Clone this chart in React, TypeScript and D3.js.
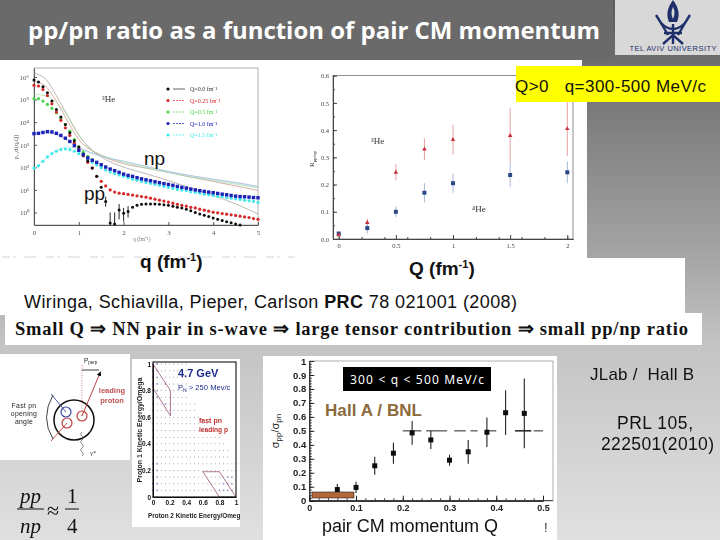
import React, { useEffect, useRef } from "react";
import * as d3 from "d3";

const SANS = "'Liberation Sans', Arial, sans-serif";
const SERIF = "'Liberation Serif', 'Times New Roman', serif";

// top left: momentum distributions in 3He
const qGrid = [
  0, 0.1, 0.2, 0.3, 0.4, 0.5, 0.6, 0.7, 0.8, 0.9, 1, 1.1, 1.2, 1.3, 1.4, 1.5, 1.6, 1.7, 1.8, 1.9, 2, 2.1, 2.2, 2.3, 2.4,
  2.5, 2.6, 2.7, 2.8, 2.9, 3, 3.1, 3.2, 3.3, 3.4, 3.5, 3.6, 3.7, 3.8, 3.9, 4, 4.1, 4.2, 4.3, 4.4, 4.5, 4.6, 4.7, 4.8,
  4.9, 5,
];
const ppQ00 = [
  7.4e5, 6e5, 3.7e5, 2e5, 8.6e4, 3.6e4, 1.7e4, 7.9e3, 3.4e3, 1.5e3, 800, 390, 190, 93, 40, 13, 3.1, 0.34, 0.31, 1.3,
  0.93, 1.1, 1.7, 2.1, 2.3, 2.4, 2.4, 2.4, 2.3, 2.2, 2.1, 1.9, 1.7, 1.6, 1.4, 1.2, 1, 0.87, 0.76, 0.66, 0.57, 0.5, 0.44,
  0.39, 0.35, 0.31, 0.28,
];
const ppQ25 = [
  4.3e5, 4e5, 2.8e5, 1.5e5, 6.5e4, 2.8e4, 1.2e4, 5.6e3, 2.6e3, 1.2e3, 650, 330, 166, 93, 40, 24, 15, 10, 8, 7.2, 6.8,
  6.3, 5.9, 5.5, 5.1, 4.8, 4.3, 3.9, 3.5, 3.2, 2.9, 2.6, 2.3, 2.1, 1.9, 1.7, 1.6, 1.4, 1.27, 1.15, 1.03, 0.97, 0.9,
  0.84, 0.79, 0.74, 0.69, 0.64, 0.6, 0.54, 0.5,
];
const ppQ50 = [1.1e5, 1.1e5, 8.6e4, 6.1e4, 4.1e4, 2.6e4, 1.5e4, 7.9e3, 4e3, 1.7e3, 800, 470, 310, 220];
const ppQ100 = [
  3.1e3, 3.2e3, 3.5e3, 3.8e3, 3.7e3, 3.2e3, 2.6e3, 1.95e3, 1.4e3, 920, 570, 365, 260, 205, 166, 130, 103, 84, 71, 60,
  50, 44, 40, 35, 31, 28, 25.5, 23, 21, 19, 17.5, 16, 14.3, 12.9, 12, 10.9, 10, 9.2, 8.6, 8, 7.5, 7, 6.5, 6.1, 5.7, 5.3,
  5.1, 5, 4.8, 4.6, 4.5,
];
const ppQ150 = [
  93, 118, 186, 288, 405, 515, 610, 650, 610, 515, 405, 310, 220, 166, 127, 97, 76, 62, 52, 46, 40, 35, 30, 27, 24,
  21.5, 19.5, 17.5, 16, 14.3, 12.9, 11.7, 10.5, 9.8, 9.2, 8.3, 7.7, 7.2, 6.5, 6.1, 5.7, 5.3, 5, 4.6, 4.3, 4.05, 3.8,
  3.5, 3.3, 3.1, 2.8,
];
const npGrid = [0, 0.25, 0.5, 0.75, 1, 1.25, 1.5, 2, 2.5, 3, 3.5, 4, 4.5, 5];
const npQ00 = [1.45e6, 8.4e5, 1.5e5, 1.9e4, 2.6e3, 720, 290, 103, 52, 26, 12, 5.7, 2.4, 0.87];
const npQ25 = [6.6e5, 4e5, 8.6e4, 1.1e4, 1.7e3, 610, 330, 145, 93, 60, 37, 24, 15, 9.5];
const npQ50 = [1.7e5, 1.5e5, 7.2e4, 1.9e4, 2.8e3, 650, 365, 166, 93, 60, 37, 25.5, 18, 12];
const npQ100 = [3.1e3, 3.6e3, 2.8e3, 1.55e3, 800, 470, 310, 185, 111, 66, 43, 30, 21.5, 14.3];
const npQ150 = [85, 235, 570, 800, 650, 435, 310, 186, 103, 62, 40, 28, 20, 12.9];
const distColors = ["#111111", "#d62a2a", "#46d84a", "#1a20b8", "#3fe8e8"];
const npColors = ["#a09a90", "#c98a80", "#a9d8a0", "#9a9fd0", "#a8e0e0"];
const distLabels = ["Q=0.0 fm⁻¹", "Q=0.25 fm⁻¹", "Q=0.5 fm⁻¹", "Q=1.0 fm⁻¹", "Q=1.5 fm⁻¹"];
const errQ = [1.6, 1.7, 1.8, 1.9, 2, 2.1];
const errLow = [1.8, 0.28, 0.28, 0.5, 0.4, 0.6];
const errHigh = [5, 1, 1, 2.4, 1.6, 1.9];

// top right: ratio vs Q
const ratioQ = [0, 0.25, 0.5, 0.75, 1, 1.5, 2];
const ratioLabelled = [0, 0.5, 1, 1.5, 2];
const he3Ratio = [0.015, 0.06, 0.245, 0.33, 0.365, 0.38, 0.405];
const he3Err = [0.005, 0.015, 0.03, 0.04, 0.055, 0.1, 0.1];
const he4Ratio = [0.02, 0.04, 0.1, 0.17, 0.205, 0.235, 0.245];
const he4Err = [0.008, 0.02, 0.02, 0.035, 0.035, 0.045, 0.04];

// bottom right: measured pp/pn
const cmQ = [0.06, 0.1, 0.14, 0.18, 0.22, 0.26, 0.3, 0.34, 0.38, 0.42, 0.46];
const cmRatio = [0.08, 0.095, 0.25, 0.34, 0.485, 0.435, 0.29, 0.35, 0.49, 0.63, 0.625];
const cmErr = [0.04, 0.04, 0.065, 0.075, 0.085, 0.065, 0.04, 0.085, 0.105, 0.16, 0.25];
const dashStart = [0.2, 0.25, 0.31, 0.345, 0.385, 0.44, 0.48];
const dashEnd = [0.24, 0.295, 0.335, 0.36, 0.4, 0.475, 0.5];

// bottom middle: kinetic energy map, rows listed from y = 1 down to y = 0
const energyGrid = [0, 0.05, 0.1, 0.15, 0.2, 0.25, 0.3, 0.35, 0.4, 0.45, 0.5, 0.55, 0.6, 0.65, 0.7, 0.75, 0.8, 0.85, 0.9, 0.95, 1];
const dotRows = [
  "oo.......",
  "oo.......",
  "oo.......",
  "oo.o.....",
  "oo.......",
  "oo.......",
  "o..o.......",
  "o..........",
  "............",
  "..............",
  "...............",
  ".................",
  "..................",
  "...................",
  "...................",
  "oo...................",
  "oo...................",
  "oo................oo",
  "oo...............ooo",
  "oo..............oooo",
  "oo..............oooo",
];
const regionA = [[0, 1], [0.21, 0.8], [0.21, 0.61], [0, 0.82]];
const regionB = [[0.6, 0.19], [0.8, 0.19], [1, 0], [0.8, 0]];

const fm = (v: d3.NumberValue) => String(v);
const superDigits: Record<string, string> = { "0": "⁰", "1": "¹", "2": "²", "3": "³", "4": "⁴", "5": "⁵", "6": "⁶" };

function Axis({ axis, transform, color = "#333", size = 10, family = SANS, weight = "normal" }: any) {
  const ref = useRef<SVGGElement>(null);
  useEffect(() => {
    const g = d3.select(ref.current!);
    g.call(axis);
    g.attr("font-size", size).attr("font-family", family).attr("font-weight", weight);
    g.selectAll("line").attr("stroke", color);
    g.selectAll("path").attr("stroke", color);
    g.selectAll("text").attr("fill", color);
  }, []);
  return <g ref={ref} transform={transform} />;
}

function DistributionChart() {
  const x = d3.scaleLinear().domain([0, 5]).range([34, 258]);
  const y = d3.scaleLog().domain([0.28, 2.5e6]).range([225, 68]);
  const line = d3
    .line<number>()
    .x((_, i) => x(npGrid[i]))
    .y((d) => y(d))
    .curve(d3.curveMonotoneX);
  const series = [ppQ00, ppQ25, ppQ50, ppQ100, ppQ150];
  const curves = [npQ00, npQ25, npQ50, npQ100, npQ150];
  const decades = [1, 10, 100, 1e3, 1e4, 1e5, 1e6];
  const format = (v: d3.NumberValue) => "10" + superDigits[String(Math.round(Math.log10(+v)))];
  return (
    <g filter="url(#soft)">
      <rect x={34} y={68} width={224} height={157} fill="none" stroke="#666" strokeWidth={0.5} />
      <Axis
        axis={d3.axisLeft(y).tickValues(decades).tickFormat(format).tickSizeInner(-3).tickSizeOuter(0).tickPadding(5)}
        transform="translate(34,0)"
        color="#555"
        size={7}
        family={SERIF}
      />
      <Axis
        axis={d3.axisBottom(x).ticks(5).tickFormat(fm).tickSizeInner(-3).tickSizeOuter(0).tickPadding(5)}
        transform="translate(0,225)"
        color="#555"
        size={7}
        family={SERIF}
      />
      {curves.map((c, i) => (
        <path key={i} d={line(c) ?? ""} fill="none" stroke={npColors[i]} strokeWidth={0.7} />
      ))}
      {errQ.map((q, i) => (
        <line key={q} x1={x(q)} x2={x(q)} y1={y(errLow[i])} y2={y(errHigh[i])} stroke="#111" strokeWidth={0.9} />
      ))}
      {[4, 2, 1, 0, 3].map((s) =>
        series[s].map((v, i) =>
          s === 3 ? (
            <rect key={s + "-" + i} x={x(qGrid[i]) - 1.7} y={y(v) - 1.7} width={3.4} height={3.4} fill={distColors[s]} />
          ) : (
            <circle key={s + "-" + i} cx={x(qGrid[i])} cy={y(v)} r={s === 0 ? 1.5 : 1.6} fill={distColors[s]} />
          ),
        ),
      )}
      {distLabels.map((label, i) => (
        <g key={label} transform={`translate(168,${89 + i * 11.5})`}>
          <circle r={1.6} fill={distColors[i]} />
          <line x1={5} x2={17} stroke={distColors[i]} strokeWidth={0.7} strokeDasharray={i === 0 ? "" : "2 1"} />
          <text x={22} y={2} fontSize={6} fontFamily={SERIF} fill={i === 0 ? "#333" : distColors[i]}>
            {label}
          </text>
        </g>
      ))}
      <text x={102} y={102} fontSize={9} fontFamily={SERIF} fill="#333">
        ³He
      </text>
      <text x={133} y={241} fontSize={5.5} fontFamily={SERIF} fill="#777">
        q (fm⁻¹)
      </text>
      <text transform="translate(18,147) rotate(-90)" textAnchor="middle" fontSize={6.5} fontFamily={SERIF} fill="#555">
        ρ₁₂d(q,Q)
      </text>
    </g>
  );
}

function RatioChart() {
  const x = d3.scaleLinear().domain([-0.05, 2.05]).range([333, 573]);
  const y = d3.scaleLinear().domain([0, 0.6]).range([239, 75.7]);
  return (
    <g filter="url(#soft)">
      <rect x={333} y={75.7} width={240} height={163.3} fill="none" stroke="#444" strokeWidth={0.6} />
      <Axis
        axis={d3.axisLeft(y).ticks(12).tickFormat(() => "").tickSizeInner(-2).tickSizeOuter(0)}
        transform="translate(333,0)"
        color="#444"
      />
      <Axis
        axis={d3.axisBottom(x).ticks(9).tickFormat(() => "").tickSizeInner(-2).tickSizeOuter(0)}
        transform="translate(0,239)"
        color="#444"
      />
      <Axis
        axis={d3.axisLeft(y).ticks(6).tickFormat(d3.format(".1f")).tickSizeInner(-4).tickSizeOuter(0).tickPadding(4)}
        transform="translate(333,0)"
        color="#444"
        size={6.5}
        family={SERIF}
      />
      <Axis
        axis={d3.axisBottom(x).tickValues(ratioLabelled).tickFormat(fm).tickSizeInner(-4).tickSizeOuter(0).tickPadding(4)}
        transform="translate(0,239)"
        color="#444"
        size={6.5}
        family={SERIF}
      />
      {ratioQ.map((q, i) => (
        <g key={q}>
          <line x1={x(q)} x2={x(q)} y1={y(he3Ratio[i] - he3Err[i])} y2={y(he3Ratio[i] + he3Err[i])} stroke="#e6a0a4" strokeWidth={1} />
          <line x1={x(q)} x2={x(q)} y1={y(he4Ratio[i] - he4Err[i])} y2={y(he4Ratio[i] + he4Err[i])} stroke="#a6b8d8" strokeWidth={1} />
          <rect x={x(q) - 2} y={y(he4Ratio[i]) - 2} width={4} height={4} fill="#2c4a86" />
          <path d={d3.symbol(d3.symbolTriangle, 9)() ?? ""} transform={`translate(${x(q)},${y(he3Ratio[i])})`} fill="#c8303a" />
        </g>
      ))}
      <text x={371} y={144} fontSize={9} fontFamily={SERIF} fill="#333">
        ³He
      </text>
      <text x={472} y={212} fontSize={9} fontFamily={SERIF} fill="#333">
        ⁴He
      </text>
      <text transform="translate(314,159) rotate(-90)" textAnchor="middle" fontSize={7} fontFamily={SERIF} fill="#333">
        R<tspan fontSize={5} dy={1.5}>pp/np</tspan>
      </text>
    </g>
  );
}

function EnergyMap() {
  const x = d3.scaleLinear().domain([0, 1]).range([153, 236]);
  const y = d3.scaleLinear().domain([0, 1]).range([497, 364]);
  const poly = (pts: number[][]) => "M" + pts.map((p) => `${x(p[0])},${y(p[1])}`).join("L") + "Z";
  return (
    <g filter="url(#soft)">
      <rect x={132} y={359} width={108} height={168} fill="#fff" />
      {dotRows.map((row, r) =>
        row.split("").map((c, i) => (
          <circle
            key={r + "-" + i}
            cx={x(energyGrid[i])}
            cy={y(energyGrid[20 - r])}
            r={c === "o" ? 0.9 : 0.5}
            fill={c === "o" ? "#8f90c8" : "#8a8a98"}
          />
        )),
      )}
      <path d={poly(regionA)} fill="none" stroke="#a86a8a" strokeWidth={0.9} />
      <path d={poly(regionB)} fill="none" stroke="#a86a8a" strokeWidth={0.9} />
      <rect x={153} y={362} width={83} height={135} fill="none" stroke="#111" strokeWidth={1.1} />
      <Axis
        axis={d3.axisLeft(y).ticks(5).tickFormat(fm).tickSize(0).tickPadding(2)}
        transform="translate(153,0)"
        color="#111"
        size={6.5}
        weight="bold"
      />
      <Axis
        axis={d3.axisBottom(x).ticks(5).tickFormat(fm).tickSize(0).tickPadding(3)}
        transform="translate(0,497)"
        color="#111"
        size={6.5}
        weight="bold"
      />
      <text transform="translate(142,430) rotate(-90)" textAnchor="middle" fontSize={7} fontFamily={SANS} fontWeight="bold" fill="#222">
        Proton 1 Kinetic Energy/Omega
      </text>
      <text x={148} y={518} fontSize={6.4} fontFamily={SANS} fontWeight="bold" fill="#222">
        Proton 2 Kinetic Energy/Omeg
      </text>
      <text x={178} y={377} fontSize={11} fontFamily={SANS} fontWeight="bold" fill="#1a2a90">
        4.7 GeV
      </text>
      <text x={178} y={390} fontSize={7.6} fontFamily={SANS} fill="#1a2a90">
        P<tspan fontSize={5} dy={2}>N</tspan>
        <tspan dy={-2}> &gt; 250 Mev/c</tspan>
      </text>
      <text x={199} y={423} fontSize={7} fontFamily={SANS} fontWeight="bold" fill="#c03030">
        fast pn
      </text>
      <text x={199} y={432} fontSize={6.6} fontFamily={SANS} fontWeight="bold" fill="#c03030">
        leading p
      </text>
    </g>
  );
}

function PairDiagram() {
  const wave = "M82,432 q-3,2 0,4 q3,2 0,4 q-3,2 0,4 q3,2 0,4 q-3,2 0,4 q3,2 0,4";
  return (
    <g filter="url(#soft)">
      <rect x={0} y={354} width={130} height={106} fill="#fff" />
      <circle cx={74} cy={420} r={20} fill="none" stroke="#111" strokeWidth={1.5} />
      <circle cx={66} cy={412} r={5} fill="none" stroke="#3a4aa0" strokeWidth={1.2} />
      <circle cx={67} cy={423} r={5} fill="none" stroke="#c04040" strokeWidth={1.2} />
      <circle cx={82} cy={416} r={5} fill="none" stroke="#c04040" strokeWidth={1.2} />
      <line x1={82} y1={365} x2={82} y2={416} stroke="#c04040" strokeWidth={0.7} strokeDasharray="1 1.5" />
      <line x1={82} y1={416} x2={100} y2={373} stroke="#c04040" strokeWidth={1} markerEnd="url(#head)" />
      <line x1={82} y1={370} x2={99} y2={370} stroke="#111" strokeWidth={0.8} />
      <line x1={66} y1={412} x2={51} y2={394} stroke="#3a4aa0" strokeWidth={0.9} />
      <line x1={67} y1={423} x2={51} y2={441} stroke="#c04040" strokeWidth={0.9} />
      <path d="M53,395 Q40,418 53,439" fill="none" stroke="#111" strokeWidth={0.8} />
      <path d={wave} fill="none" stroke="#555" strokeWidth={0.7} />
      <text x={84} y={363} fontSize={6.5} fontFamily={SANS} fill="#222">
        P<tspan fontSize={4.5} dy={1}>perp</tspan>
      </text>
      <text x={90} y={455} fontSize={7} fontFamily={SERIF} fill="#444">
        γ*
      </text>
      {["Fast pn", "opening", "angle"].map((t, i) => (
        <text key={t} x={24} y={408 + i * 8} textAnchor="middle" fontSize={6.8} fontFamily={SANS} fill="#222" letterSpacing={0.3}>
          {t}
        </text>
      ))}
      {["leading", "proton"].map((t, i) => (
        <text key={t} x={112} y={393 + i * 10} textAnchor="middle" fontSize={7.5} fontFamily={SANS} fontWeight="bold" fill="#c05050">
          {t}
        </text>
      ))}
    </g>
  );
}

function PairRatioChart() {
  const x = d3.scaleLinear().domain([0, 0.5]).range([309.3, 543]);
  const y = d3.scaleLinear().domain([0, 1]).range([500.7, 361]);
  const minorX = d3.range(0, 26).map((i) => i * 0.02);
  const minorY = d3.range(0, 51).map((i) => i * 0.02);
  return (
    <g>
      <rect x={263} y={356} width={294} height={184} fill="#fff" />
      <g filter="url(#soft)">
        <line x1={309.3} y1={361} x2={553} y2={361} stroke="#777" strokeWidth={0.6} />
        <line x1={553} y1={361} x2={553} y2={500.7} stroke="#777" strokeWidth={0.6} />
        <line x1={309.3} y1={500.7} x2={553} y2={500.7} stroke="#222" strokeWidth={1} />
        <Axis
          axis={d3.axisLeft(y).tickValues(minorY).tickFormat(() => "").tickSizeInner(-2.5).tickSizeOuter(0)}
          transform="translate(309.3,0)"
          color="#444"
        />
        <Axis
          axis={d3.axisBottom(x).tickValues(minorX).tickFormat(() => "").tickSizeInner(-2.5).tickSizeOuter(0)}
          transform="translate(0,500.7)"
          color="#444"
        />
        <Axis
          axis={d3.axisLeft(y).ticks(10).tickFormat(fm).tickSizeInner(-5).tickSizeOuter(0).tickPadding(3)}
          transform="translate(309.3,0)"
          color="#222"
          size={9.5}
          weight="bold"
        />
        <Axis
          axis={d3.axisBottom(x).ticks(5).tickFormat(fm).tickSizeInner(-5).tickSizeOuter(0).tickPadding(4)}
          transform="translate(0,500.7)"
          color="#222"
          size={9}
          weight="bold"
        />
        {dashStart.map((s, i) => (
          <line key={s} x1={x(s)} x2={x(dashEnd[i])} y1={y(0.5)} y2={y(0.5)} stroke="#111" strokeWidth={i === 5 ? 1.4 : 0.9} />
        ))}
        {cmQ.map((q, i) => (
          <g key={q}>
            <line x1={x(q)} x2={x(q)} y1={y(cmRatio[i] - cmErr[i])} y2={y(cmRatio[i] + cmErr[i])} stroke="#222" strokeWidth={1.1} />
            <rect x={x(q) - 2.5} y={y(cmRatio[i]) - 2.5} width={5} height={5} fill="#111" />
          </g>
        ))}
      </g>
      <rect x={312} y={492} width={42} height={6} fill="#b5673c" stroke="#222" strokeWidth={0.6} />
      <rect x={343} y={367} width={148} height={24} fill="#000" />
      <text x={417} y={384} textAnchor="middle" fontSize={12} fontFamily="'Noto Sans', sans-serif" fill="#fff" textLength={134}>
        300 &lt; q &lt; 500 MeV/c
      </text>
      <text x={325} y={416} fontSize={17} fontFamily={SANS} fontWeight="bold" fill="#8c6a3c" textLength={97}>
        Hall A / BNL
      </text>
      <text transform="translate(279,431) rotate(-90)" textAnchor="middle" fontSize={11} fontFamily={SANS} fill="#222">
        σ<tspan fontSize={8} dy={2}>pp</tspan>
        <tspan dy={-2}>/σ</tspan>
        <tspan fontSize={8} dy={2}>pn</tspan>
      </text>
      <text x={322} y={532} fontSize={18} fontFamily={SANS} fill="#111" textLength={176}>
        pair CM momentum Q
      </text>
      <text x={544} y={532} fontSize={13} fontFamily={SANS} fill="#333">
        !
      </text>
    </g>
  );
}

function Logo() {
  return (
    <g>
      <rect x={615} y={0} width={105} height={55} fill="#d8d8d8" />
      <path d="M673,0 C667,8 666,15 669,22 L677,22 C680,15 679,8 673,0Z" fill="#1f2f6a" />
      <path d="M673,7 C671,11 671,15 673,19 C675,15 675,11 673,7Z" fill="#d8d8d8" />
      <g fill="none" stroke="#1f2f6a" strokeWidth={2.4}>
        <path d="M656,15 L661,23 Q667,29 673,29 Q679,29 685,23 L690,15" />
        <path d="M661,23 L668,35 M685,23 L678,35" />
        <path d="M664,33 H682 M673,24 V44 M663,44 L673,35 L683,44" />
      </g>
      <text x={673} y={51} textAnchor="middle" fontSize={7.5} fontFamily={SANS} fill="#1f2f6a" textLength={87}>
        TEL AVIV UNIVERSITY
      </text>
    </g>
  );
}

export default function App() {
  return (
    <svg width={720} height={540} style={{ position: "absolute", left: 0, top: 0 }}>
      <defs>
        <linearGradient id="bg" x1="0" y1="0" x2="0" y2="1">
          <stop offset="0" stopColor="#5c5c5c" />
          <stop offset="0.48" stopColor="#a6a6a6" />
          <stop offset="0.64" stopColor="#c4c4c4" />
          <stop offset="1" stopColor="#e0e0e0" />
        </linearGradient>
        <filter id="soft" x="-5%" y="-5%" width="110%" height="110%">
          <feGaussianBlur stdDeviation="0.35" />
        </filter>
        <marker id="head" markerWidth="5" markerHeight="5" refX="3" refY="2.5" orient="auto">
          <path d="M0,0 L5,2.5 L0,5Z" fill="#111" />
        </marker>
      </defs>
      <rect width={720} height={540} fill="url(#bg)" />
      <rect x={0} y={0} width={613} height={60} fill="#6a6a6a" />
      <text x={28} y={39} fontSize={24} fontFamily="'Open Sans', sans-serif" fontWeight="bold" fill="#fff" textLength={572} lengthAdjust="spacingAndGlyphs">
        pp/pn ratio as a function of pair CM momentum
      </text>
      <Logo />

      <rect x={0} y={60} width={582} height={6} fill="#fff" />
      <rect x={0} y={66} width={587} height={192} fill="#fff" />
      <rect x={0} y={258} width={685} height={57} fill="#fff" />
      <line x1={2} x2={295} y1={257} y2={257} stroke="#d4d4d4" strokeWidth={1} strokeDasharray="8 3 3 8 12 10" />

      <DistributionChart />
      <RatioChart />
      <rect x={516} y={66} width={204} height={36} fill="#ffff00" />
      <text x={515} y={92} fontSize={17} fontFamily={SANS} fill="#111" xmlSpace="preserve" textLength={191}>
        Q&gt;0   q=300-500 MeV/c
      </text>

      <text x={144} y={165} fontSize={19} fontFamily={SANS} fill="#111">
        np
      </text>
      <text x={84} y={200} fontSize={19} fontFamily={SANS} fill="#111">
        pp
      </text>
      <text x={140} y={268} fontSize={19} fontFamily={SANS} fontWeight="bold" fill="#111">
        q (fm<tspan fontSize={11} dy={-7}>-1</tspan>
        <tspan dy={7}>)</tspan>
      </text>
      <text x={409} y={275} fontSize={19} fontFamily={SANS} fontWeight="bold" fill="#111">
        Q (fm<tspan fontSize={11} dy={-7}>-1</tspan>
        <tspan dy={7}>)</tspan>
      </text>
      <text x={24} y={308} fontSize={18} fontFamily={SANS} fill="#111" textLength={493}>
        Wiringa, Schiavilla, Pieper, Carlson <tspan fontWeight="bold">PRC</tspan> 78 021001 (2008)
      </text>

      <rect x={5} y={313} width={697} height={32} fill="#fff" />
      <text x={15} y={335} fontSize={18.5} fontFamily={SERIF} fontWeight="bold" fill="#111" textLength={673}>
        Small Q ⇒ NN pair in s-wave ⇒ large  tensor contribution ⇒ small pp/np ratio
      </text>

      <PairDiagram />
      <EnergyMap />
      <PairRatioChart />

      <g fontFamily={SERIF} fontStyle="italic" fontSize={21} fill="#111">
        <text x={20} y={503}>pp</text>
        <text x={20} y={533}>np</text>
      </g>
      <line x1={17} x2={44} y1={509} y2={509} stroke="#111" strokeWidth={1} />
      <text x={47} y={518} fontSize={22} fontFamily={SERIF} fill="#111">≈</text>
      <text x={67} y={503} fontSize={21} fontFamily={SERIF} fill="#111">1</text>
      <line x1={65} x2={79} y1={509} y2={509} stroke="#111" strokeWidth={1} />
      <text x={67} y={533} fontSize={21} fontFamily={SERIF} fill="#111">4</text>

      <text x={590} y={380} fontSize={17} fontFamily={SANS} fill="#111" xmlSpace="preserve" textLength={104}>
        JLab /  Hall B
      </text>
      <text x={617} y={429} fontSize={17.5} fontFamily={SANS} fill="#111" textLength={76}>
        PRL 105,
      </text>
      <text x={601} y={450} fontSize={17.5} fontFamily={SANS} fill="#111" textLength={113}>
        222501(2010)
      </text>
    </svg>
  );
}
